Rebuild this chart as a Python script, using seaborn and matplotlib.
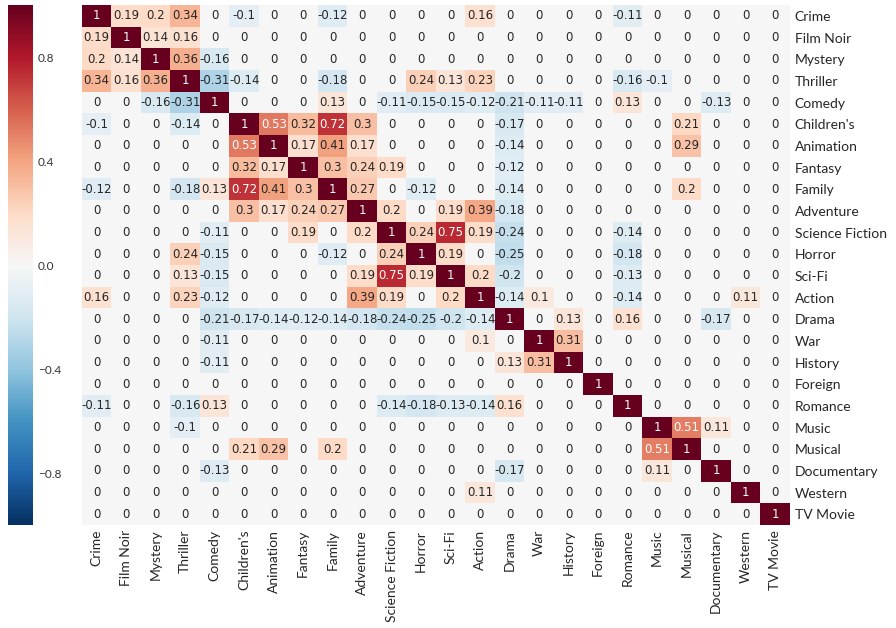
import numpy as np
import pandas as pd
import seaborn as sns
import matplotlib.pyplot as plt

genres = ["Crime", "Film Noir", "Mystery", "Thriller", "Comedy", "Children's",
          "Animation", "Fantasy", "Family", "Adventure", "Science Fiction",
          "Horror", "Sci-Fi", "Action", "Drama", "War", "History", "Foreign",
          "Romance", "Music", "Musical", "Documentary", "Western", "TV Movie"]

# correlation rows (columns in the same order as genres)
crime       = [1, 0.19, 0.2, 0.34, 0, -0.1, 0, 0, -0.12, 0, 0, 0, 0, 0.16, 0, 0, 0, 0, -0.11, 0, 0, 0, 0, 0]
film_noir   = [0.19, 1, 0.14, 0.16, 0, 0, 0, 0, 0, 0, 0, 0, 0, 0, 0, 0, 0, 0, 0, 0, 0, 0, 0, 0]
mystery     = [0.2, 0.14, 1, 0.36, -0.16, 0, 0, 0, 0, 0, 0, 0, 0, 0, 0, 0, 0, 0, 0, 0, 0, 0, 0, 0]
thriller    = [0.34, 0.16, 0.36, 1, -0.31, -0.14, 0, 0, -0.18, 0, 0, 0.24, 0.13, 0.23, 0, 0, 0, 0, -0.16, -0.1, 0, 0, 0, 0]
comedy      = [0, 0, -0.16, -0.31, 1, 0, 0, 0, 0.13, 0, -0.11, -0.15, -0.15, -0.12, -0.21, -0.11, -0.11, 0, 0.13, 0, 0, -0.13, 0, 0]
childrens   = [-0.1, 0, 0, -0.14, 0, 1, 0.53, 0.32, 0.72, 0.3, 0, 0, 0, 0, -0.17, 0, 0, 0, 0, 0, 0.21, 0, 0, 0]
animation   = [0, 0, 0, 0, 0, 0.53, 1, 0.17, 0.41, 0.17, 0, 0, 0, 0, -0.14, 0, 0, 0, 0, 0, 0.29, 0, 0, 0]
fantasy     = [0, 0, 0, 0, 0, 0.32, 0.17, 1, 0.3, 0.24, 0.19, 0, 0, 0, -0.12, 0, 0, 0, 0, 0, 0, 0, 0, 0]
family      = [-0.12, 0, 0, -0.18, 0.13, 0.72, 0.41, 0.3, 1, 0.27, 0, -0.12, 0, 0, -0.14, 0, 0, 0, 0, 0, 0.2, 0, 0, 0]
adventure   = [0, 0, 0, 0, 0, 0.3, 0.17, 0.24, 0.27, 1, 0.2, 0, 0.19, 0.39, -0.18, 0, 0, 0, 0, 0, 0, 0, 0, 0]
science_fic = [0, 0, 0, 0, -0.11, 0, 0, 0.19, 0, 0.2, 1, 0.24, 0.75, 0.19, -0.24, 0, 0, 0, -0.14, 0, 0, 0, 0, 0]
horror      = [0, 0, 0, 0.24, -0.15, 0, 0, 0, -0.12, 0, 0.24, 1, 0.19, 0, -0.25, 0, 0, 0, -0.18, 0, 0, 0, 0, 0]
sci_fi      = [0, 0, 0, 0.13, -0.15, 0, 0, 0, 0, 0.19, 0.75, 0.19, 1, 0.2, -0.2, 0, 0, 0, -0.13, 0, 0, 0, 0, 0]
action      = [0.16, 0, 0, 0.23, -0.12, 0, 0, 0, 0, 0.39, 0.19, 0, 0.2, 1, -0.14, 0.1, 0, 0, -0.14, 0, 0, 0, 0.11, 0]
drama       = [0, 0, 0, 0, -0.21, -0.17, -0.14, -0.12, -0.14, -0.18, -0.24, -0.25, -0.2, -0.14, 1, 0, 0.13, 0, 0.16, 0, 0, -0.17, 0, 0]
war         = [0, 0, 0, 0, -0.11, 0, 0, 0, 0, 0, 0, 0, 0, 0.1, 0, 1, 0.31, 0, 0, 0, 0, 0, 0, 0]
history     = [0, 0, 0, 0, -0.11, 0, 0, 0, 0, 0, 0, 0, 0, 0, 0.13, 0.31, 1, 0, 0, 0, 0, 0, 0, 0]
foreign     = [0, 0, 0, 0, 0, 0, 0, 0, 0, 0, 0, 0, 0, 0, 0, 0, 0, 1, 0, 0, 0, 0, 0, 0]
romance     = [-0.11, 0, 0, -0.16, 0.13, 0, 0, 0, 0, 0, -0.14, -0.18, -0.13, -0.14, 0.16, 0, 0, 0, 1, 0, 0, 0, 0, 0]
music       = [0, 0, 0, -0.1, 0, 0, 0, 0, 0, 0, 0, 0, 0, 0, 0, 0, 0, 0, 0, 1, 0.51, 0.11, 0, 0]
musical     = [0, 0, 0, 0, 0, 0.21, 0.29, 0, 0.2, 0, 0, 0, 0, 0, 0, 0, 0, 0, 0, 0.51, 1, 0, 0, 0]
documentary = [0, 0, 0, 0, -0.13, 0, 0, 0, 0, 0, 0, 0, 0, 0, -0.17, 0, 0, 0, 0, 0.11, 0, 1, 0, 0]
western     = [0, 0, 0, 0, 0, 0, 0, 0, 0, 0, 0, 0, 0, 0.11, 0, 0, 0, 0, 0, 0, 0, 0, 1, 0]
tv_movie    = [0, 0, 0, 0, 0, 0, 0, 0, 0, 0, 0, 0, 0, 0, 0, 0, 0, 0, 0, 0, 0, 0, 0, 1]

rows = [crime, film_noir, mystery, thriller, comedy, childrens, animation, fantasy,
        family, adventure, science_fic, horror, sci_fi, action, drama, war, history,
        foreign, romance, music, musical, documentary, western, tv_movie]
corr = pd.DataFrame(rows, index=genres, columns=genres)

sns.set_style("white")
plt.rcParams['font.family'] = ['Lato', 'DejaVu Sans']

fig = plt.figure(figsize=(8.96, 6.28), dpi=100)
ax = fig.add_axes([0.0915, 0.164, 0.79, 0.828])
cax = fig.add_axes([0.009, 0.164, 0.028, 0.828])

sns.heatmap(corr, ax=ax, cbar_ax=cax, cmap="RdBu_r", vmin=-1, vmax=1,
            annot=True, fmt=".2g", annot_kws={"size": 8.5, "family": "DejaVu Sans"})

ax.yaxis.tick_right()
ax.set_yticklabels(genres, rotation=0, fontsize=10)
ax.set_xticklabels(genres, rotation=90, fontsize=10)
ax.tick_params(length=0)

cax.set_yticks([-0.8, -0.4, 0.0, 0.4, 0.8])
cax.tick_params(length=0, labelsize=8.5, colors="#333333")

fig.savefig("out.png", dpi=100)
